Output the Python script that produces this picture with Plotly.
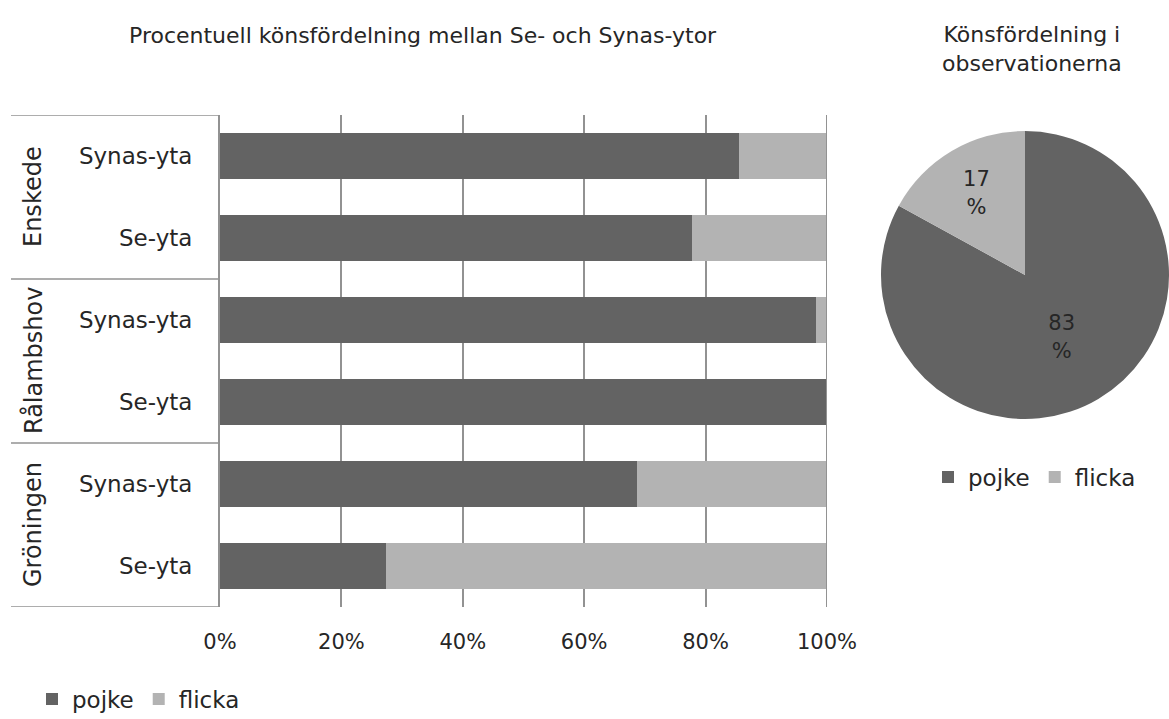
import plotly.graph_objects as go

W, H = 1169, 719

groups = ["Enskede", "Enskede", "Rålambshov", "Rålambshov", "Gröningen", "Gröningen"]
areas = ["Synas-yta", "Se-yta", "Synas-yta", "Se-yta", "Synas-yta", "Se-yta"]
pojke = [85.5, 77.8, 98.2, 100.0, 68.7, 27.3]
flicka = [100 - v for v in pojke]
group_names = ["Enskede", "Rålambshov", "Gröningen"]

pie_labels = ["pojke", "flicka"]
pie_values = [83, 17]

title_bar = "Procentuell könsfördelning mellan Se- och Synas-ytor"
title_pie = "Könsfördelning i<br>observationerna"

DARK = "#636363"
LIGHT = "#b3b3b3"
TXT = "#262626"
GRID = "#929292"
FONT = "DejaVu Sans"

idx = list(range(len(areas)))

fig = go.Figure()
fig.add_trace(go.Bar(y=idx, x=[v / 100 for v in pojke], orientation="h", name="pojke",
                     marker=dict(color=DARK, line=dict(width=0)), legend="legend"))
fig.add_trace(go.Bar(y=idx, x=[v / 100 for v in flicka], orientation="h", name="flicka",
                     marker=dict(color=LIGHT, line=dict(width=0)), legend="legend"))

pcx, pr = 1025, 144
pcy = 275
fig.add_trace(go.Pie(labels=pie_labels, values=pie_values, sort=False, direction="clockwise",
                     rotation=0, marker=dict(colors=[DARK, LIGHT], line=dict(width=0)),
                     texttemplate="%{value}<br>%", textposition="inside",
                     insidetextfont=dict(color=TXT, size=21, family=FONT),
                     hoverinfo="label+percent", legend="legend2",
                     domain=dict(x=[(pcx - pr) / W, min(1.0, (pcx + pr) / W)],
                                 y=[1 - (pcy + pr) / H, 1 - (pcy - pr) / H])))

x0p, x1p = 220 / W, 827 / W
y_top, y_bot = 115, 607

fig.update_layout(
    width=W, height=H,
    margin=dict(l=0, r=0, t=0, b=0, autoexpand=False),
    paper_bgcolor="white", plot_bgcolor="white",
    barmode="stack", bargap=0.44,
    font=dict(family=FONT, size=20, color=TXT),
    xaxis=dict(domain=[x0p, x1p], range=[0, 1], dtick=0.2, tickformat=".0%",
               showgrid=True, gridcolor=GRID, gridwidth=2, zeroline=False,
               showline=False, ticks="", ticklabelstandoff=20,
               tickfont=dict(size=21, color=TXT, family=FONT), fixedrange=True),
    yaxis=dict(domain=[1 - y_bot / H, 1 - y_top / H], range=[5.5, -0.5],
               tickvals=idx, ticktext=areas, showgrid=False, zeroline=False,
               showline=True, linecolor=GRID, linewidth=2, ticks="",
               ticklabelstandoff=21, tickfont=dict(size=23, color=TXT, family=FONT)),
    legend=dict(orientation="h", x=32 / W, y=1 - 699 / H, xanchor="left", yanchor="middle",
                font=dict(size=23, color=TXT, family=FONT), bgcolor="rgba(0,0,0,0)",
                itemwidth=30, traceorder="normal"),
    legend2=dict(orientation="h", x=928 / W, y=1 - 477 / H, xanchor="left", yanchor="middle",
                 font=dict(size=23, color=TXT, family=FONT), bgcolor="rgba(0,0,0,0)",
                 itemwidth=30, traceorder="normal"),
    showlegend=True,
)

# right 100% edge line
fig.add_shape(type="line", xref="x", yref="y", x0=1, x1=1, y0=-0.5, y1=5.5,
              line=dict(color=GRID, width=2))

# group dividers
for yv in [-0.5, 1.5, 3.5, 5.5]:
    fig.add_shape(type="line", xref="paper", yref="y", x0=11 / W, x1=x0p, y0=yv, y1=yv,
                  line=dict(color=GRID, width=1.5))

for i, g in enumerate(group_names):
    fig.add_annotation(x=33 / W, xref="paper", y=2 * i + 0.5, yref="y", text=g,
                       textangle=-90, showarrow=False, xanchor="center", yanchor="middle",
                       font=dict(size=24, color=TXT, family=FONT))

fig.add_annotation(x=423 / W, y=1 - 35 / H, xref="paper", yref="paper", text=title_bar,
                   showarrow=False, xanchor="center", yanchor="middle",
                   font=dict(size=22, color=TXT, family=FONT))
fig.add_annotation(x=1032 / W, y=1 - 49 / H, xref="paper", yref="paper", text=title_pie,
                   showarrow=False, xanchor="center", yanchor="middle",
                   font=dict(size=22, color=TXT, family=FONT))

fig.write_html("out.html", config={"displayModeBar": False},
               post_script="document.body.style.margin='0';document.body.style.overflow='hidden';")
